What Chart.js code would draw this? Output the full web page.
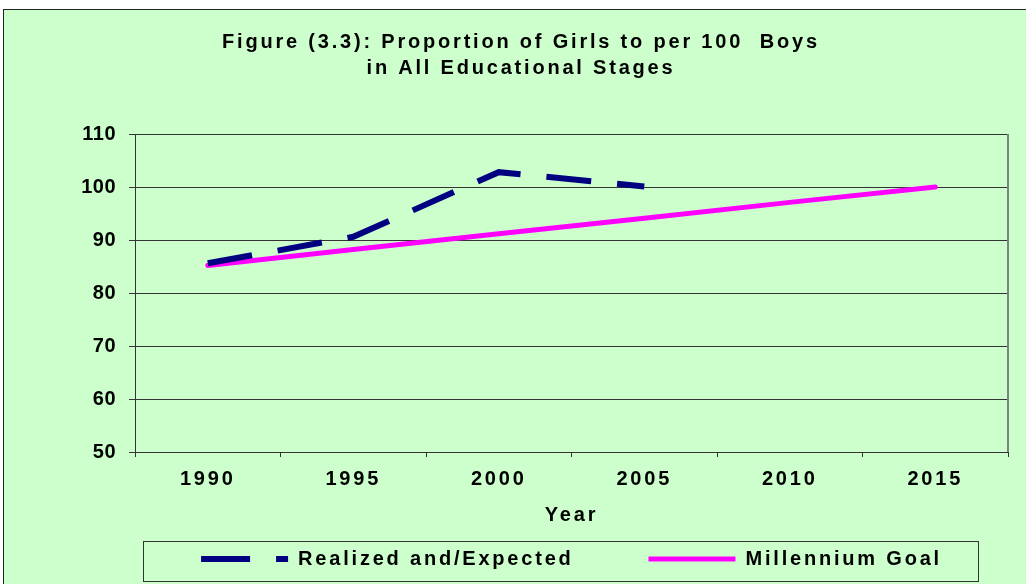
<!DOCTYPE html>
<html>
<head>
<meta charset="utf-8">
<script src="https://cdn.jsdelivr.net/npm/chart.js@4.4.1/dist/chart.umd.min.js"></script>
<style>
  html, body { margin: 0; padding: 0; background: #ffffff; overflow: hidden; }
  #wrap { width: 1026px; height: 584px; }
</style>
</head>
<body>
<div id="wrap"><canvas id="myChart" width="1026" height="584"></canvas></div>
<script>
// chart values
const years = ['1990', '1995', '2000', '2005', '2010', '2015'];
const realized = [85.6, 90.6, 102.8, 100.1, null, null];
const goal = [85.2, 88.2, 91.2, 94.1, 97.1, 100];
const yTicks = [50, 60, 70, 80, 90, 100, 110];

const titleLines = ['Figure (3.3): Proportion of Girls to per 100  Boys', 'in All Educational Stages'];
const FONT = "'Liberation Sans', Arial, sans-serif";
const SPACING = '2.8px';

// background, frame, letter spacing
const framePlugin = {
    id: 'frame',
    beforeUpdate(chart) {
        chart.ctx.letterSpacing = SPACING;
    },
    beforeDraw(chart) {
        const ctx = chart.ctx;
        ctx.save();
        ctx.letterSpacing = '0px';
        ctx.fillStyle = '#ffffff';
        ctx.fillRect(0, 0, chart.width, chart.height);
        ctx.fillStyle = '#CCFFCC';
        ctx.fillRect(3, 9, chart.width, chart.height);
        ctx.strokeStyle = '#222222';
        ctx.lineWidth = 1;
        ctx.strokeRect(3.5, 9.5, chart.width + 10, chart.height + 10);
        ctx.restore();
        ctx.letterSpacing = SPACING;

        // y labels are set tighter than the rest
        const y = chart.scales.y;
        if (y && !y._patched) {
            const orig = y.drawLabels;
            y.drawLabels = function (area) {
                ctx.letterSpacing = '0.5px';
                orig.call(this, area);
                ctx.letterSpacing = SPACING;
            };
            y._patched = true;
        }
    },
    afterDraw(chart) {
        const ctx = chart.ctx;
        const a = chart.chartArea;
        ctx.save();
        // right edge of plot area
        ctx.strokeStyle = '#808080';
        ctx.lineWidth = 2;
        ctx.beginPath();
        ctx.moveTo(a.right, a.top);
        ctx.lineTo(a.right, a.bottom);
        ctx.stroke();
        // legend frame
        ctx.strokeStyle = '#333333';
        ctx.lineWidth = 1;
        ctx.strokeRect(143.5, 541.5, 835, 40);
        ctx.restore();
    }
};

const ctx = document.getElementById('myChart').getContext('2d');
const chartInstance = new Chart(ctx, {
    type: 'line',
    data: {
        labels: years,
        datasets: [
            {
                label: 'Realized and/Expected',
                data: realized,
                borderColor: '#000080',
                backgroundColor: '#000080',
                borderWidth: 6,
                borderDash: [45, 26],
                borderCapStyle: 'butt',
                pointRadius: 0,
                tension: 0,
                spanGaps: false
            },
            {
                label: 'Millennium Goal',
                data: goal,
                borderColor: '#FF00FF',
                backgroundColor: '#FF00FF',
                borderWidth: 5,
                borderCapStyle: 'round',
                pointRadius: 0,
                tension: 0
            }
        ]
    },
    options: {
        responsive: false,
        animation: false,
        devicePixelRatio: 1,
        layout: {
            padding: { left: 34, right: 18, top: 0, bottom: 5 }
        },
        scales: {
            x: {
                offset: true,
                grid: {
                    offset: true,
                    drawOnChartArea: false,
                    drawTicks: true,
                    tickLength: 5,
                    color: '#333333'
                },
                border: { color: '#333333', width: 1 },
                ticks: {
                    color: '#000000',
                    font: { family: FONT, size: 20, weight: 'bold' },
                    padding: 10,
                    maxRotation: 0
                },
                title: {
                    display: true,
                    text: 'Year',
                    color: '#000000',
                    font: { family: FONT, size: 20, weight: 'bold' },
                    padding: { top: 2, bottom: 14 }
                }
            },
            y: {
                min: 50,
                max: 110,
                afterBuildTicks: function (scale) {
                    scale.ticks = yTicks.map(v => ({ value: v }));
                },
                afterFit: function (scale) {
                    scale.width = 101;
                },
                grid: {
                    color: '#333333',
                    lineWidth: 1,
                    drawTicks: true,
                    tickLength: 6
                },
                border: { color: '#333333', width: 1 },
                ticks: {
                    color: '#000000',
                    font: { family: FONT, size: 20, weight: 'bold' },
                    padding: 13
                }
            }
        },
        plugins: {
            title: {
                display: true,
                text: titleLines,
                color: '#000000',
                font: { family: FONT, size: 20, weight: 'bold', lineHeight: 1.3 },
                padding: { top: 29, bottom: 53 }
            },
            legend: {
                display: true,
                position: 'bottom',
                fullSize: false,
                labels: {
                    color: '#000000',
                    font: { family: FONT, size: 20, weight: 'bold' },
                    usePointStyle: true,
                    pointStyle: 'line',
                    pointStyleWidth: 87,
                    padding: 8,
                    generateLabels: function (chart) {
                        const items = Chart.defaults.plugins.legend.labels.generateLabels(chart);
                        items.forEach(function (item, i) {
                            item.pointStyle = 'line';
                            if (i === 0) {
                                item.lineDash = [49, 26];
                                item.text = item.text + '        ';
                            }
                        });
                        return items;
                    }
                }
            },
            tooltip: { enabled: false }
        }
    },
    plugins: [framePlugin]
});
</script>
</body>
</html>
